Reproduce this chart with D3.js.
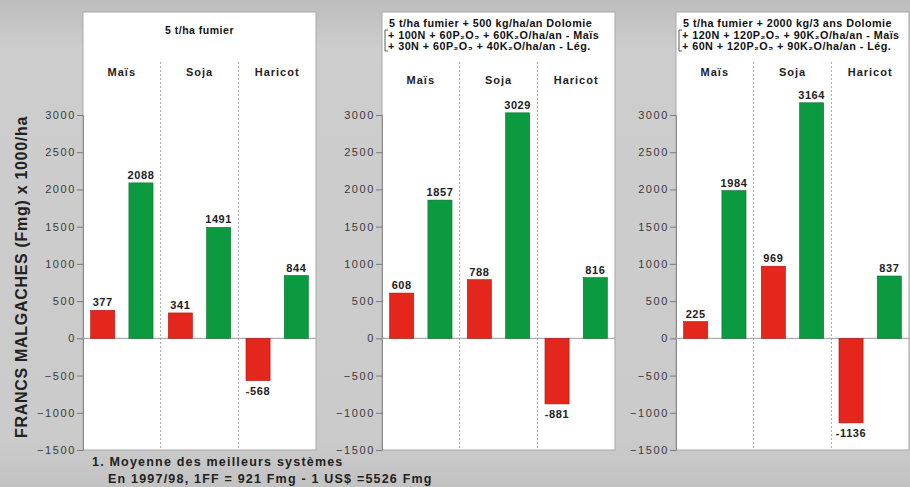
<!DOCTYPE html>
<html><head><meta charset="utf-8">
<script src="https://cdn.jsdelivr.net/npm/d3@7"></script>
<style>
body{margin:0;padding:0;background:#c9c9c9;}
svg{display:block;font-family:Arial,"Liberation Sans",sans-serif;}
</style></head>
<body>
<svg id="chart" width="910" height="487"></svg>
<script>
// ---- data ----
const categories = ["Maïs", "Soja", "Haricot"];
const series = ["témoin", "amélioré"];
const panel1Values = [[377, 2088], [341, 1491], [-568, 844]];
const panel2Values = [[608, 1857], [788, 3029], [-881, 816]];
const panel3Values = [[225, 1984], [969, 3164], [-1136, 837]];
const panel1Title = ["5 t/ha fumier"];
const panel2Title = ["5 t/ha fumier + 500 kg/ha/an Dolomie",
  "+ 100N + 60P₂O₅ + 60K₂O/ha/an - Maïs",
  "+ 30N + 60P₂O₅ + 40K₂O/ha/an - Lég."];
const panel3Title = ["5 t/ha fumier + 2000 kg/3 ans Dolomie",
  "+ 120N + 120P₂O₅ + 90K₂O/ha/an - Maïs",
  "+ 60N + 120P₂O₅ + 90K₂O/ha/an - Lég."];
const yTicks = [-1500, -1000, -500, 0, 500, 1000, 1500, 2000, 2500, 3000];
const yTitle = "FRANCS MALGACHES (Fmg) x 1000/ha";
const footnotes = ["1. Moyenne des meilleurs systèmes", "En 1997/98, 1FF = 921 Fmg - 1 US$ =5526 Fmg"];

const panels = [
  {values: panel1Values, title: panel1Title, x0: 83, catY: 76},
  {values: panel2Values, title: panel2Title, x0: 382, catY: 84},
  {values: panel3Values, title: panel3Title, x0: 676, catY: 76}
];
const colors = ["#e4261c", "#0c9a40"];
const strokes = ["#a81812", "#07702c"];

const svg = d3.select("#chart");
const defs = svg.append("defs");
const bg = defs.append("linearGradient").attr("id","bg").attr("x1",0).attr("y1",0).attr("x2",0).attr("y2",1);
bg.append("stop").attr("offset","0%").attr("stop-color","#bdbdbd");
bg.append("stop").attr("offset","10%").attr("stop-color","#cdcdcd");
bg.append("stop").attr("offset","90%").attr("stop-color","#cbcbcb");
bg.append("stop").attr("offset","100%").attr("stop-color","#c2c2c2");
svg.append("rect").attr("width",910).attr("height",487).attr("fill","url(#bg)");

const y = d3.scaleLinear().domain([-1500, 3000]).range([450, 115]);
const panelW = 233, panelTop = 12;

panels.forEach((p) => {
  const g = svg.append("g");
  g.append("rect").attr("x", p.x0).attr("y", panelTop).attr("width", panelW)
    .attr("height", y(-1500) - panelTop).attr("fill", "#fff").attr("stroke", "#a8a8a8").attr("stroke-width", 1);

  const x = d3.scaleBand().domain(categories).range([p.x0, p.x0 + panelW]).padding(0);
  const xs = d3.scaleBand().domain(series).range([0, x.bandwidth()]).paddingInner(0.37).paddingOuter(0.2).align(0.5);

  // axis
  const axis = d3.axisLeft(y).tickValues(yTicks).tickSize(6).tickPadding(1).tickFormat(d3.format("d"));
  const ax = g.append("g").attr("transform", `translate(${p.x0},0)`).call(axis);
  ax.select(".domain").attr("stroke", "#8a8a8a");
  ax.selectAll(".tick line").attr("stroke", "#7a7a7a");
  ax.selectAll(".tick text").attr("fill", "#3a3a3a").attr("font-size", 11).attr("letter-spacing", 1.6)
    .attr("font-family", "Arial, sans-serif");

  // dividers
  categories.slice(1).forEach(c => {
    g.append("line").attr("x1", x(c)).attr("x2", x(c)).attr("y1", 62).attr("y2", y(-1500))
      .attr("stroke", "#a0a0b0").attr("stroke-width", 1).attr("stroke-dasharray", "2,2");
  });

  // zero line
  g.append("line").attr("x1", p.x0).attr("x2", p.x0 + panelW).attr("y1", y(0)).attr("y2", y(0))
    .attr("stroke", "#9a9a9a").attr("stroke-width", 1);

  // category labels
  g.selectAll(".cat").data(categories).enter().append("text")
    .attr("x", d => x(d) + x.bandwidth() / 2).attr("y", p.catY)
    .attr("text-anchor", "middle").attr("font-size", 11).attr("font-weight", "bold").attr("fill", "#222")
    .attr("letter-spacing", 1)
    .text(d => d);

  // bars
  const flat = [];
  p.values.forEach((vals, i) => vals.forEach((v, j) => flat.push({cat: categories[i], s: series[j], j, v})));
  g.selectAll(".bar").data(flat).enter().append("rect")
    .attr("x", d => x(d.cat) + xs(d.s)).attr("width", xs.bandwidth())
    .attr("y", d => y(Math.max(0, d.v))).attr("height", d => Math.abs(y(d.v) - y(0)))
    .attr("fill", d => colors[d.j]).attr("stroke", d => strokes[d.j]).attr("stroke-width", 0.6);

  g.selectAll(".val").data(flat).enter().append("text")
    .attr("x", d => x(d.cat) + xs(d.s) + xs.bandwidth() / 2)
    .attr("y", d => d.v >= 0 ? y(d.v) - 4 : y(d.v) + 14)
    .attr("text-anchor", "middle").attr("font-size", 11).attr("font-weight", "bold").attr("fill", "#222")
    .attr("letter-spacing", 0.6)
    .text(d => d.v);

  // title
  if (p.title.length === 1) {
    g.append("text").attr("x", p.x0 + panelW / 2).attr("y", 34).attr("text-anchor", "middle")
      .attr("font-size", 10.5).attr("font-weight", "bold").attr("fill", "#111").attr("letter-spacing", 0.5)
      .text(p.title[0]);
  } else {
    p.title.forEach((t, i) => {
      g.append("text").attr("x", p.x0 + (i === 0 ? 7 : 6)).attr("y", 27 + i * 11.5)
        .attr("font-size", 10.8).attr("font-weight", "bold").attr("fill", "#111").attr("letter-spacing", 0.45)
        .text(t);
    });
    g.append("path").attr("d", `M${p.x0 + 6},30 H${p.x0 + 3} V51 H${p.x0 + 6}`)
      .attr("fill", "none").attr("stroke", "#333").attr("stroke-width", 0.8);
  }
});

// y title
svg.append("text").attr("transform", "translate(27,277) rotate(-90)")
  .attr("text-anchor", "middle").attr("font-size", 16).attr("font-weight", "bold").attr("fill", "#222")
  .attr("letter-spacing", 0.7)
  .text(yTitle);

// footnotes
svg.append("text").attr("x", 92).attr("y", 466).attr("font-size", 12.5).attr("font-weight", "bold")
  .attr("fill", "#222").attr("letter-spacing", 1.2).text(footnotes[0]);
svg.append("text").attr("x", 108).attr("y", 483).attr("font-size", 12.5).attr("font-weight", "bold")
  .attr("fill", "#222").attr("letter-spacing", 1.2).text(footnotes[1]);
</script>
</body></html>
